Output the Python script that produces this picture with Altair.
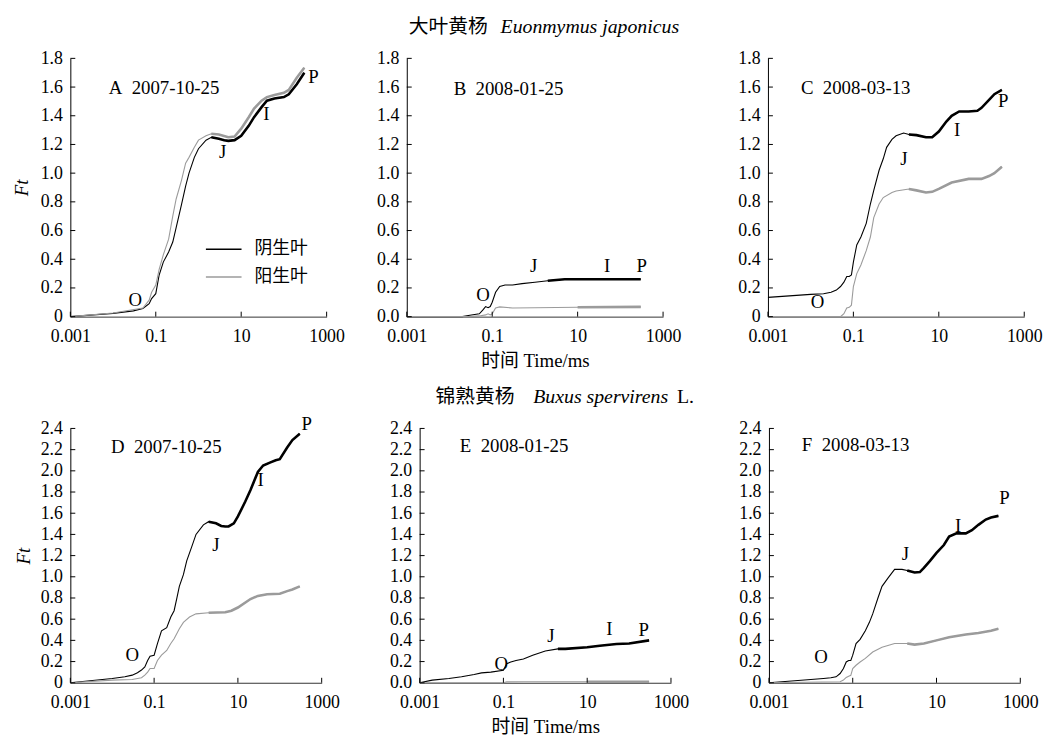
import altair as alt
import pandas as pd

FONT = "Liberation Serif, Noto Sans CJK SC"
SERIES = ["阴生叶", "阳生叶"]
COLORS = ["#000000", "#9b9b9b"]
LETTERS = ["O", "J", "I", "P"]
X_TICKS = [0.001, 0.1, 10, 1000]
Y_TICKS_TOP = [0, 0.2, 0.4, 0.6, 0.8, 1.0, 1.2, 1.4, 1.6, 1.8]
Y_TICKS_BOT = [0, 0.2, 0.4, 0.6, 0.8, 1.0, 1.2, 1.4, 1.6, 1.8, 2.0, 2.2, 2.4]

TITLE_TOP_CN = "大叶黄杨"
TITLE_TOP_LA = "Euonmymus japonicus"
TITLE_BOT_CN = "锦熟黄杨"
TITLE_BOT_LA = "Buxus spervirens"
TITLE_BOT_L = "L."
X_TITLE = "时间 Time/ms"
Y_TITLE = "Ft"

# ---------------- Panel A ----------------
A_t_shade = [0.001, 0.01, 0.03, 0.05, 0.07, 0.08, 0.1, 0.12, 0.15, 0.2, 0.25, 0.3, 0.4, 0.5, 0.6, 0.8, 1, 1.5, 2, 3, 4, 5, 7, 10, 15, 20, 30, 40, 60, 100, 130, 200, 300]
A_y_shade = [0, 0.023, 0.04, 0.057, 0.09, 0.126, 0.16, 0.29, 0.38, 0.45, 0.52, 0.62, 0.78, 0.91, 1.0, 1.11, 1.17, 1.23, 1.25, 1.24, 1.23, 1.225, 1.23, 1.26, 1.33, 1.39, 1.46, 1.505, 1.52, 1.53, 1.55, 1.62, 1.70]
A_t_sun = [0.001, 0.01, 0.05, 0.07, 0.08, 0.1, 0.12, 0.15, 0.2, 0.25, 0.3, 0.4, 0.5, 0.6, 0.8, 1, 1.5, 2, 3, 5, 7, 10, 15, 20, 30, 40, 60, 100, 130, 200, 300]
A_y_sun = [0, 0.025, 0.06, 0.115, 0.17, 0.22, 0.33, 0.43, 0.54, 0.70, 0.82, 0.95, 1.07, 1.11, 1.18, 1.23, 1.26, 1.275, 1.27, 1.25, 1.255, 1.31, 1.39, 1.45, 1.505, 1.53, 1.545, 1.56, 1.58, 1.665, 1.735]
A_ann_t = [0.033, 3.7, 39, 490]
A_ann_y = [0.115, 1.15, 1.41, 1.67]
A_date = "A\u00a0\u00a02007-10-25"
A_date_t, A_date_y = 0.0079, 1.59

# ---------------- Panel B ----------------
B_t_shade = [0.001, 0.02, 0.03, 0.05, 0.06, 0.07, 0.08, 0.09, 0.1, 0.12, 0.15, 0.2, 0.3, 0.5, 1, 2, 5, 10, 100, 300]
B_y_shade = [0, 0, 0.01, 0.02, 0.045, 0.07, 0.062, 0.07, 0.10, 0.17, 0.21, 0.22, 0.22, 0.23, 0.24, 0.25, 0.26, 0.26, 0.26, 0.26]
B_t_sun = [0.001, 0.03, 0.05, 0.07, 0.08, 0.09, 0.1, 0.12, 0.15, 0.3, 1, 10, 300]
B_y_sun = [0, 0, 0.005, 0.012, 0.02, 0.012, 0.02, 0.06, 0.068, 0.06, 0.062, 0.065, 0.068]
B_ann_t = [0.061, 0.93, 49, 316]
B_ann_y = [0.15, 0.35, 0.35, 0.35]
B_date = "B\u00a0\u00a02008-01-25"
B_date_t, B_date_y = 0.0125, 1.586

# ---------------- Panel C ----------------
C_t_shade = [0.001, 0.01, 0.02, 0.03, 0.04, 0.05, 0.06, 0.07, 0.08, 0.09, 0.1, 0.12, 0.15, 0.2, 0.25, 0.3, 0.4, 0.5, 0.6, 0.8, 1, 1.5, 2, 3, 5, 7, 10, 15, 20, 30, 50, 80, 100, 150, 200, 300]
C_y_shade = [0.134, 0.155, 0.16, 0.17, 0.185, 0.21, 0.24, 0.28, 0.28, 0.29, 0.38, 0.50, 0.555, 0.65, 0.785, 0.88, 1.02, 1.10, 1.18, 1.235, 1.26, 1.28, 1.27, 1.265, 1.25, 1.25, 1.29, 1.36, 1.40, 1.43, 1.43, 1.435, 1.455, 1.51, 1.55, 1.58]
C_t_sun = [0.001, 0.05, 0.06, 0.07, 0.08, 0.09, 0.1, 0.12, 0.15, 0.2, 0.25, 0.3, 0.4, 0.5, 0.8, 1, 2, 3, 5, 7, 10, 20, 50, 100, 150, 200, 300]
C_y_sun = [0, 0, 0.02, 0.06, 0.065, 0.08, 0.21, 0.30, 0.36, 0.46, 0.555, 0.69, 0.785, 0.83, 0.865, 0.875, 0.89, 0.88, 0.865, 0.87, 0.89, 0.935, 0.96, 0.96, 0.98, 1.00, 1.045]
C_ann_t = [0.0144, 1.52, 27, 324]
C_ann_y = [0.104, 1.10, 1.30, 1.50]
C_date = "C\u00a0\u00a02008-03-13"
C_date_t, C_date_y = 0.0059, 1.59

# ---------------- Panel D ----------------
D_t_shade = [0.001, 0.01, 0.02, 0.03, 0.04, 0.05, 0.06, 0.07, 0.08, 0.1, 0.12, 0.15, 0.2, 0.25, 0.3, 0.35, 0.4, 0.5, 0.6, 0.8, 1, 1.5, 2, 3, 4, 5, 6, 8, 10, 15, 20, 30, 40, 60, 80, 100, 150, 200, 300]
D_y_shade = [0, 0.04, 0.056, 0.072, 0.094, 0.12, 0.15, 0.21, 0.25, 0.26, 0.37, 0.49, 0.52, 0.62, 0.68, 0.80, 0.91, 1.02, 1.15, 1.29, 1.40, 1.49, 1.52, 1.505, 1.48, 1.475, 1.475, 1.505, 1.57, 1.71, 1.82, 1.99, 2.05, 2.08, 2.10, 2.11, 2.22, 2.29, 2.35]
D_t_sun = [0.001, 0.01, 0.03, 0.05, 0.06, 0.07, 0.08, 0.1, 0.12, 0.15, 0.2, 0.25, 0.3, 0.4, 0.5, 0.7, 1, 2, 5, 7, 10, 20, 30, 50, 100, 150, 200, 300]
D_y_sun = [0, 0.025, 0.03, 0.047, 0.072, 0.10, 0.135, 0.135, 0.21, 0.26, 0.305, 0.37, 0.415, 0.51, 0.57, 0.62, 0.65, 0.66, 0.665, 0.68, 0.71, 0.79, 0.82, 0.835, 0.84, 0.865, 0.88, 0.91]
D_ann_t = [0.030, 3.0, 35, 441]
D_ann_y = [0.26, 1.30, 1.91, 2.44]
D_date = "D\u00a0\u00a02007-10-25"
D_date_t, D_date_y = 0.0093, 2.22

# ---------------- Panel E ----------------
E_t_shade = [0.001, 0.002, 0.005, 0.01, 0.02, 0.03, 0.05, 0.1, 0.12, 0.15, 0.2, 0.3, 0.5, 1, 2, 3, 10, 20, 50, 100, 300]
E_y_shade = [0, 0.025, 0.04, 0.056, 0.078, 0.093, 0.10, 0.118, 0.18, 0.195, 0.21, 0.225, 0.26, 0.30, 0.32, 0.32, 0.335, 0.35, 0.365, 0.37, 0.40]
E_t_sun = [0.001, 0.1, 0.12, 0.3, 1, 10, 100, 300]
E_y_sun = [0, 0, 0.008, 0.01, 0.01, 0.01, 0.01, 0.01]
E_ann_t = [0.089, 1.36, 34, 224]
E_ann_y = [0.18, 0.44, 0.51, 0.50]
E_date = "E\u00a0\u00a02008-01-25"
E_date_t, E_date_y = 0.0091, 2.23

# ---------------- Panel F ----------------
F_t_shade = [0.001, 0.01, 0.02, 0.03, 0.04, 0.05, 0.06, 0.07, 0.08, 0.09, 0.1, 0.12, 0.15, 0.2, 0.25, 0.3, 0.4, 0.5, 0.7, 1, 1.5, 2, 3, 4, 5, 7, 10, 15, 20, 30, 50, 70, 100, 150, 200, 300]
F_y_shade = [0, 0.03, 0.04, 0.047, 0.056, 0.087, 0.134, 0.196, 0.21, 0.21, 0.26, 0.37, 0.41, 0.49, 0.57, 0.65, 0.80, 0.91, 0.99, 1.07, 1.07, 1.06, 1.04, 1.045, 1.085, 1.15, 1.225, 1.30, 1.38, 1.41, 1.41, 1.44, 1.49, 1.54, 1.56, 1.575]
F_t_sun = [0.001, 0.05, 0.06, 0.07, 0.08, 0.09, 0.1, 0.12, 0.15, 0.2, 0.3, 0.5, 1, 2, 3, 5, 10, 20, 50, 100, 200, 300]
F_y_sun = [0, 0.01, 0.025, 0.05, 0.062, 0.07, 0.134, 0.165, 0.196, 0.23, 0.29, 0.335, 0.37, 0.37, 0.36, 0.37, 0.40, 0.43, 0.455, 0.47, 0.49, 0.51]
F_ann_t = [0.0174, 1.82, 33, 418]
F_ann_y = [0.24, 1.21, 1.48, 1.74]
F_date = "F\u00a0\u00a02008-03-13"
F_date_t, F_date_y = 0.0061, 2.24


def one_row(a_dict):
    return pd.DataFrame([a_dict])


def make_panel(t_sh, y_sh, t_su, y_su, ann_t, ann_y, date, date_t, date_y,
               yticks, zero_label, width, height, extent,
               y_title=None, x_title=None, legend=False, titles=None):
    ymax = yticks[-1]
    lines = pd.DataFrame({
        "t": list(t_sh) + list(t_su),
        "v": list(y_sh) + list(y_su),
        "s": [SERIES[0]] * len(t_sh) + [SERIES[1]] * len(t_su),
    })
    ann = pd.DataFrame({"t": ann_t, "v": ann_y, "lab": LETTERS})
    dlab = pd.DataFrame({"t": [date_t], "v": [date_y], "lab": [date]})

    lab_expr = ("datum.value == 0 ? '%s' : format(datum.value, '.1f')" % zero_label)
    x_axis = alt.Axis(values=X_TICKS, format="~g", labelPadding=11, labelFlush=False,
                      labelOverlap=False, title=x_title, titlePadding=6,
                      domainColor="#333333")
    y_axis = alt.Axis(values=yticks, labelExpr=lab_expr, labelPadding=8,
                      labelOverlap=False, minExtent=extent, maxExtent=extent,
                      title=y_title, titleFontStyle="italic", titlePadding=3)
    X = alt.X("t:Q", scale=alt.Scale(type="log", domain=[0.001, 1000], nice=False), axis=x_axis)
    Y = alt.Y("v:Q", scale=alt.Scale(domain=[0, ymax], nice=False), axis=y_axis)
    if legend:
        leg = alt.Legend(orient="none", legendX=136, legendY=174, title=None,
                         symbolType="stroke", symbolSize=1296, symbolStrokeWidth=1.5,
                         labelFont=FONT, labelFontSize=18, labelColor="black",
                         labelOffset=12, rowPadding=0, padding=0)
    else:
        leg = None
    C = alt.Color("s:N", scale=alt.Scale(domain=SERIES, range=COLORS), legend=leg)

    thin = alt.Chart(lines).mark_line(strokeWidth=1.1).encode(x=X, y=Y, color=C)
    thick = (alt.Chart(lines).transform_filter("datum.t >= 2")
             .mark_line(strokeWidth=2.6).encode(x=X, y=Y, color=C))
    ytk = (alt.Chart(pd.DataFrame({"v": yticks})).mark_rule(color="black", strokeWidth=1)
           .encode(y=Y, x=alt.value(0), x2=alt.value(5)))
    xtk = (alt.Chart(pd.DataFrame({"t": X_TICKS})).mark_rule(color="black", strokeWidth=1)
           .encode(x=X, y=alt.value(height), y2=alt.value(height - 5)))
    letters = (alt.Chart(ann).mark_text(font=FONT, fontSize=19, color="black")
               .encode(x=X, y=Y, text="lab:N"))
    dtext = (alt.Chart(dlab).mark_text(font=FONT, fontSize=19, color="black", align="left")
             .encode(x=X, y=Y, text="lab:N"))
    layers = [thin, thick, ytk, xtk, letters, dtext]
    if titles:
        for txt, xpos, align, style in titles:
            layers.append(
                alt.Chart(one_row({"k": 0})).mark_text(
                    text=txt, font=FONT, fontSize=20, color="black", align=align,
                    baseline="middle", fontStyle=style)
                .encode(x=alt.value(xpos), y=alt.value(-32)))
    else:
        layers.append(
            alt.Chart(one_row({"k": 0})).mark_text(
                text=" ", font=FONT, fontSize=20, opacity=0, baseline="middle")
            .encode(x=alt.value(100), y=alt.value(-32)))
    return alt.layer(*layers).properties(width=width, height=height)


WT, HT = 259, 261
WB, HB = 254, 257

pA = make_panel(A_t_shade, A_y_shade, A_t_sun, A_y_sun, A_ann_t, A_ann_y, A_date, A_date_t, A_date_y,
                Y_TICKS_TOP, "0", WT, HT, 36, y_title=Y_TITLE, legend=True)
pB = make_panel(B_t_shade, B_y_shade, B_t_sun, B_y_sun, B_ann_t, B_ann_y, B_date, B_date_t, B_date_y,
                Y_TICKS_TOP, "0.0", WT, HT, 40, x_title=X_TITLE,
                titles=[(TITLE_TOP_CN, 82, "right", "normal"), (TITLE_TOP_LA, 185, "center", "italic")])
pC = make_panel(C_t_shade, C_y_shade, C_t_sun, C_y_sun, C_ann_t, C_ann_y, C_date, C_date_t, C_date_y,
                Y_TICKS_TOP, "0", WT, HT, 65)
pD = make_panel(D_t_shade, D_y_shade, D_t_sun, D_y_sun, D_ann_t, D_ann_y, D_date, D_date_t, D_date_y,
                Y_TICKS_BOT, "0", WB, HB, 34, y_title=Y_TITLE)
pE = make_panel(E_t_shade, E_y_shade, E_t_sun, E_y_sun, E_ann_t, E_ann_y, E_date, E_date_t, E_date_y,
                Y_TICKS_BOT, "0.0", WB, HB, 58, x_title=X_TITLE,
                titles=[(TITLE_BOT_CN, 96, "right", "normal"), (TITLE_BOT_LA, 183, "center", "italic"),
                        (TITLE_BOT_L, 260, "left", "normal")])
pF = make_panel(F_t_shade, F_y_shade, F_t_sun, F_y_sun, F_ann_t, F_ann_y, F_date, F_date_t, F_date_y,
                Y_TICKS_BOT, "0", WB, HB, 52)

row1 = (alt.hconcat(pA, pB, pC, spacing=23)
        .resolve_scale(color="independent").resolve_legend(color="independent"))
row2 = (alt.hconcat(pD, pE, pF, spacing=23)
        .resolve_scale(color="independent").resolve_legend(color="independent"))

chart = (alt.vconcat(row1, row2, spacing=17)
         .resolve_scale(color="independent").resolve_legend(color="independent")
         .configure(padding=5, background="white")
         .configure_view(stroke=None)
         .configure_axis(grid=False, ticks=False, tickSize=0, domainColor="black", domainWidth=1,
                         labelFont=FONT, labelFontSize=18, labelColor="black",
                         titleFont=FONT, titleFontSize=19, titleFontWeight="normal", titleColor="black"))

chart.save("out.html", embed_options={"renderer": "svg", "actions": False})
